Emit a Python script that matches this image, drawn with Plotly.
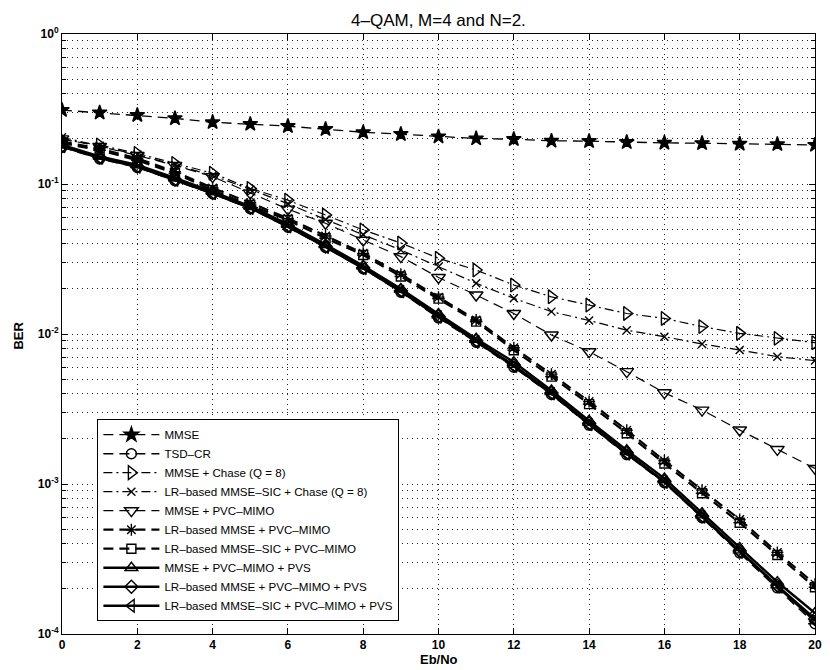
import plotly.graph_objects as go

# Eb/No grid (dB)
ebno = list(range(21))

# BER curves, 4-QAM, M=4, N=2
ber_mmse = [0.311, 0.299, 0.288, 0.274, 0.258, 0.251, 0.243, 0.232, 0.221, 0.215, 0.207,
            0.201, 0.199, 0.194, 0.193, 0.190, 0.188, 0.187, 0.185, 0.184, 0.182]
ber_tsd_cr = [0.176, 0.147, 0.129, 0.105, 0.086, 0.0685, 0.0515, 0.0377, 0.0272, 0.0190, 0.0128,
              0.0088, 0.0060, 0.00395, 0.00247, 0.00157, 0.00102, 0.000595, 0.000347, 0.000203, 0.000117]
ber_mmse_chase = [0.198, 0.182, 0.160, 0.137, 0.118, 0.0935, 0.078, 0.0621, 0.0494, 0.0404, 0.032,
                  0.0267, 0.0212, 0.0177, 0.0156, 0.0137, 0.0127, 0.0112, 0.0101, 0.00935, 0.00875]
ber_lrsic_chase = [0.205, 0.180, 0.157, 0.134, 0.114, 0.092, 0.074, 0.058, 0.046, 0.0363, 0.0281,
                   0.0218, 0.0173, 0.0141, 0.0123, 0.0106, 0.0096, 0.00858, 0.00782, 0.00706, 0.00665]
ber_mmse_pvc = [0.200, 0.178, 0.155, 0.133, 0.112, 0.087, 0.068, 0.0547, 0.0422, 0.0328, 0.0238,
                0.0182, 0.0137, 0.00985, 0.00762, 0.00561, 0.00406, 0.00311, 0.00229, 0.0017, 0.00127]
ber_lr_pvc = [0.192, 0.172, 0.148, 0.121, 0.094, 0.075, 0.059, 0.045, 0.0345, 0.025, 0.0176,
              0.0124, 0.0081, 0.0054, 0.00355, 0.00228, 0.00143, 0.00091, 0.00058, 0.00035, 0.000215]
ber_lrsic_pvc = [0.187, 0.168, 0.144, 0.118, 0.0909, 0.0724, 0.0575, 0.0435, 0.0336, 0.0242, 0.0172,
                 0.0121, 0.0078, 0.0052, 0.00341, 0.00218, 0.00137, 0.000867, 0.000552, 0.000336, 0.000205]
ber_mmse_pvc_pvs = [0.182, 0.153, 0.134, 0.110, 0.089, 0.071, 0.054, 0.0395, 0.0285, 0.0200, 0.0136,
                    0.0093, 0.0065, 0.0042, 0.00264, 0.00168, 0.00109, 0.000640, 0.000375, 0.000222, 0.000138]
ber_lr_pvc_pvs = [0.179, 0.150, 0.131, 0.107, 0.087, 0.0695, 0.0525, 0.0383, 0.0277, 0.0194, 0.0131,
                  0.0090, 0.0062, 0.00404, 0.00253, 0.00161, 0.00104, 0.000610, 0.000357, 0.000210, 0.000126]
ber_lrsic_pvc_pvs = [0.178, 0.149, 0.130, 0.106, 0.0865, 0.069, 0.052, 0.038, 0.0274, 0.0192, 0.0130,
                     0.0089, 0.0061, 0.00400, 0.00250, 0.00159, 0.00103, 0.000603, 0.000352, 0.000206, 0.000122]

x_ticks = [0, 2, 4, 6, 8, 10, 12, 14, 16, 18, 20]
y_ticks = [1e-4, 1e-3, 1e-2, 1e-1, 1e0]
y_tick_text = ["10<sup>-4</sup>", "10<sup>-3</sup>", "10<sup>-2</sup>", "10<sup>-1</sup>", "10<sup>0</sup>"]
y_minor = [m * d for d in (1e-4, 1e-3, 1e-2, 1e-1) for m in range(2, 10)]

FONT = "Liberation Sans, Arial, Helvetica, sans-serif"
DASH = "10px,6px"
DASHDOT = "9px,4px,2px,4px"

series = [
    ("MMSE", ber_mmse, "star", 11, DASH, 1.3),
    ("TSD–CR", ber_tsd_cr, "circle-open", 10, DASH, 1.5),
    ("MMSE + Chase (Q = 8)", ber_mmse_chase, "triangle-right-open", 12, DASHDOT, 1.2),
    ("LR–based MMSE–SIC + Chase (Q = 8)", ber_lrsic_chase, "x-thin-open", 8, DASHDOT, 1.2),
    ("MMSE + PVC–MIMO", ber_mmse_pvc, "triangle-down-open", 12, DASH, 1.2),
    ("LR–based MMSE + PVC–MIMO", ber_lr_pvc, "asterisk-open", 10, DASH, 2.2),
    ("LR–based MMSE–SIC + PVC–MIMO", ber_lrsic_pvc, "square-open", 9, DASH, 2.2),
    ("MMSE + PVC–MIMO + PVS", ber_mmse_pvc_pvs, "triangle-up-open", 11, "solid", 2.4),
    ("LR–based MMSE + PVC–MIMO + PVS", ber_lr_pvc_pvs, "diamond-open", 10, "solid", 2.4),
    ("LR–based MMSE–SIC + PVC–MIMO + PVS", ber_lrsic_pvc_pvs, "triangle-left-open", 11, "solid", 2.4),
]

fig = go.Figure()
for name, vals, sym, size, dash, lw in series:
    fig.add_trace(go.Scatter(
        x=ebno, y=vals, name=name, mode="lines+markers",
        line=dict(color="black", width=lw, dash=dash),
        marker=dict(symbol=sym, size=size, color="black",
                    line=dict(color="black", width=1.4)),
    ))

# horizontal bar through the circle and square markers
for vals, size in ((ber_tsd_cr, 10), (ber_lrsic_pvc, 9)):
    fig.add_trace(go.Scatter(
        x=ebno, y=vals, mode="markers", showlegend=False, hoverinfo="skip",
        marker=dict(symbol="line-ew", size=size, color="black",
                    line=dict(color="black", width=1.4)),
    ))

axis_common = dict(
    showline=True, linecolor="black", linewidth=1, mirror="allticks",
    ticks="inside", ticklen=6, tickcolor="black", tickwidth=1,
    showgrid=True, gridcolor="#222", gridwidth=1, griddash="1px,4px",
    zeroline=False, tickfont=dict(family=FONT, size=12, color="black", weight="bold"),
)

fig.update_xaxes(range=[0, 20], tickvals=x_ticks, **axis_common)
fig.update_yaxes(
    type="log", range=[-4, 0], tickvals=y_ticks, ticktext=y_tick_text,
    minor=dict(tickvals=y_minor, ticks="inside", ticklen=4, tickcolor="black",
               showgrid=True, gridcolor="#222", gridwidth=1, griddash="1px,4px"),
    **axis_common,
)

fig.update_layout(
    width=830, height=670,
    margin=dict(l=62, r=8, t=34, b=36),
    paper_bgcolor="white", plot_bgcolor="white",
    font=dict(family=FONT, color="black"),
    showlegend=True,
    legend=dict(
        x=0.047, y=0.358, xanchor="left", yanchor="top",
        bgcolor="white", bordercolor="black", borderwidth=1,
        font=dict(family=FONT, size=11.6, color="black"),
        itemwidth=56, tracegroupgap=0,
    ),
    annotations=[
        dict(text="4–QAM, M=4 and N=2.", xref="paper", yref="paper", x=0.5, y=1.023,
             xanchor="center", yanchor="middle", showarrow=False,
             font=dict(family=FONT, size=17, color="black")),
        dict(text="Eb/No", xref="paper", yref="paper", x=0.5, y=-0.043,
             xanchor="center", yanchor="middle", showarrow=False,
             font=dict(family=FONT, size=13, color="black", weight="bold")),
        dict(text="BER", xref="paper", yref="paper", x=-0.058, y=0.498,
             xanchor="center", yanchor="middle", showarrow=False, textangle=-90,
             font=dict(family=FONT, size=13, color="black", weight="bold")),
    ],
)

fig.write_html("out.html")
